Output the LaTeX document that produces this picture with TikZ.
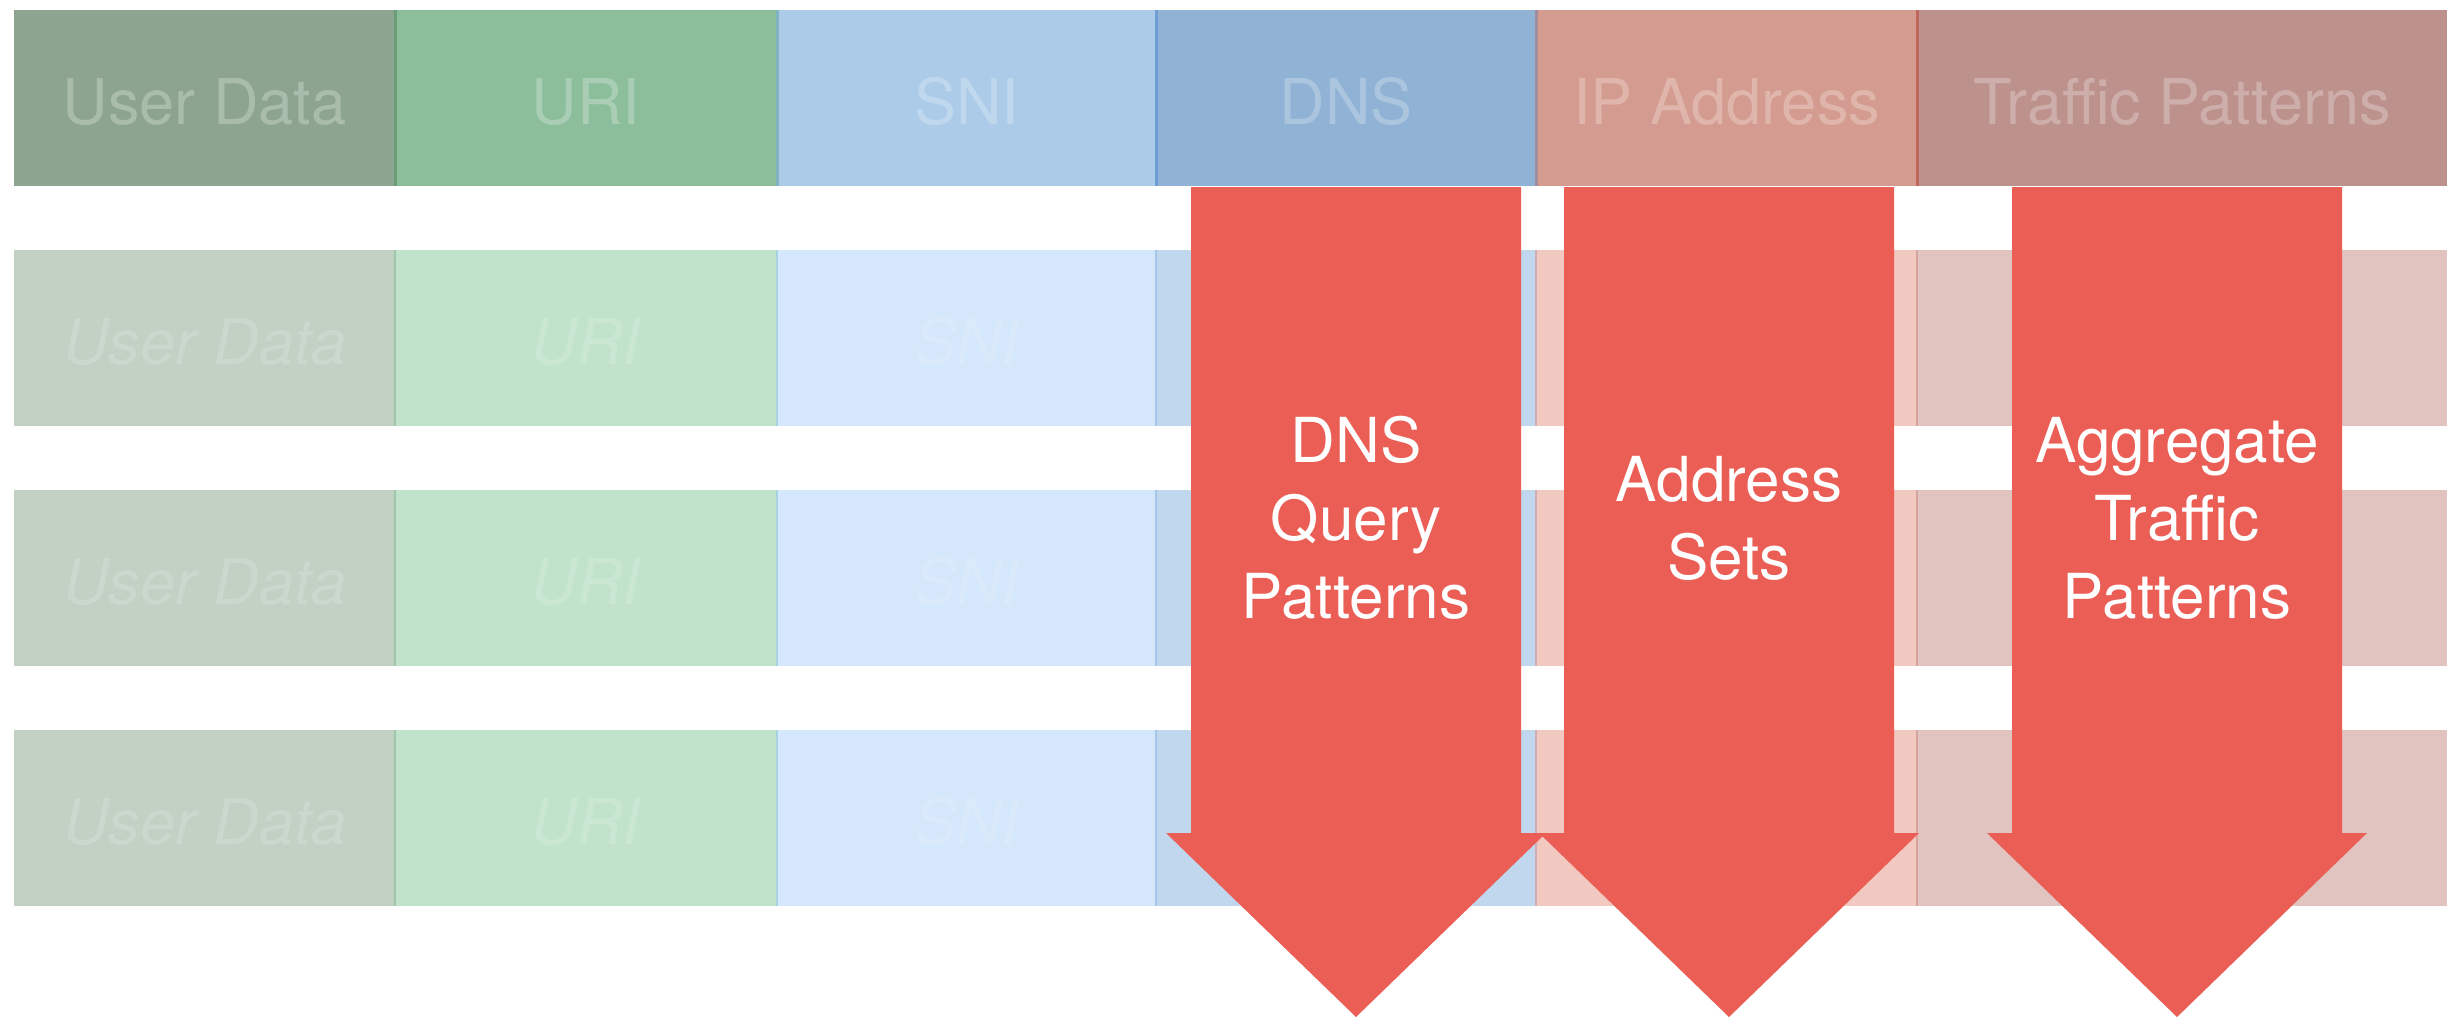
\documentclass[tikz,border=0pt]{standalone}
\usepackage{fontspec}
\setmainfont{TeX Gyre Heros}
% header row colours
\definecolor{udTop}{HTML}{8DA590}
\definecolor{uriTop}{HTML}{8CBE9C}
\definecolor{sniTop}{HTML}{ABCBE9}
\definecolor{dnsTop}{HTML}{8FB2D5}
\definecolor{ipTop}{HTML}{D49C90}
\definecolor{tpTop}{HTML}{BD928D}
% lighter packet rows
\definecolor{udLow}{HTML}{C2D1C4}
\definecolor{uriLow}{HTML}{C1E3CC}
\definecolor{sniLow}{HTML}{D4E7FB}
\definecolor{dnsLow}{HTML}{C0D7EE}
\definecolor{ipLow}{HTML}{F2C9C1}
\definecolor{tpLow}{HTML}{E1C4C0}
% separators between fields
\definecolor{sepTopA}{HTML}{6A9E78}
\definecolor{sepTopB}{HTML}{80B3C0}
\definecolor{sepTopC}{HTML}{6E9FD4}
\definecolor{sepTopD}{HTML}{A08C9C}
\definecolor{sepTopE}{HTML}{C0665C}
\definecolor{sepLowA}{HTML}{9DC8AA}
\definecolor{sepLowB}{HTML}{A8D4E0}
\definecolor{sepLowC}{HTML}{A3C6EA}
\definecolor{sepLowD}{HTML}{CFAEB4}
\definecolor{sepLowE}{HTML}{D9A39D}
\definecolor{arrowred}{HTML}{EB5E56}
\begin{document}
\begin{tikzpicture}[x=1pt,y=-1pt,
  hdr/.style={font=\fontsize{63}{75}\selectfont, text=white, text opacity=0.26, anchor=base, inner sep=0pt},
  sub/.style={font=\fontsize{63}{75}\selectfont\itshape, text=white, text opacity=0.16, anchor=base, inner sep=0pt},
  lbl/.style={font=\fontsize{62}{78}\selectfont, text=white, align=center, inner sep=0pt},
  bigarrow/.style={fill=arrowred}]
\useasboundingbox (0,0) rectangle (2459,1018);

% field cells: header row and three packet rows
\foreach \a/\b/\c in {14/395/ud, 395/777/uri, 777/1156/sni, 1156/1536/dns, 1536/1917/ip, 1917/2447/tp}{
  \fill[\c Top] (\a,10) rectangle (\b,186);
  \foreach \r in {250,490,730}
    \fill[\c Low] (\a,\r) rectangle (\b,\r+176);
}

% separators
\foreach \x/\ct/\cl in {395/sepTopA/sepLowA, 777/sepTopB/sepLowB, 1156/sepTopC/sepLowC, 1536/sepTopD/sepLowD, 1917/sepTopE/sepLowE}{
  \draw[\ct, line width=3pt] (\x,10) -- (\x,186);
  \foreach \r in {250,490,730}
    \draw[\cl, line width=2pt] (\x,\r) -- (\x,\r+176);
}

% header labels
\node[hdr] (hUD)  at (204.5,124) {User Data};
\node[hdr] (hURI) at (586,124)   {URI};
\node[hdr] (hSNI) at (966.5,124) {SNI};
\node[hdr] (hDNS) at (1346,124)  {DNS};
\node[hdr] (hIP)  at (1726.5,124) {IP Address};
\node[hdr] (hTP)  at (2182,124)  {Traffic Patterns};

% encrypted field labels in packet rows
\foreach \r/\y in {2/364, 3/604, 4/844}{
  \node[sub] (ud\r)  at (204.5,\y) {User Data};
  \node[sub] (uri\r) at (586,\y)   {URI};
  \node[sub] (sni\r) at (966.5,\y) {SNI};
}

% downward arrows
\fill[bigarrow] (1191,187) -- (1521,187) -- (1521,833) -- (1546,833) -- (1356,1017) -- (1166,833) -- (1191,833) -- cycle;
\fill[bigarrow] (1564,187) -- (1894,187) -- (1894,833) -- (1919,833) -- (1729,1017) -- (1539,833) -- (1564,833) -- cycle;
\fill[bigarrow] (2012,187) -- (2342,187) -- (2342,833) -- (2367,833) -- (2177,1017) -- (1987,833) -- (2012,833) -- cycle;

\node[lbl] (aDNS)  at (1356,518) {DNS\\Query\\Patterns};
\node[lbl] (aAddr) at (1729,518) {Address\\Sets};
\node[lbl] (aAgg)  at (2177,518) {Aggregate\\Traffic\\Patterns};
\end{tikzpicture}
\end{document}
